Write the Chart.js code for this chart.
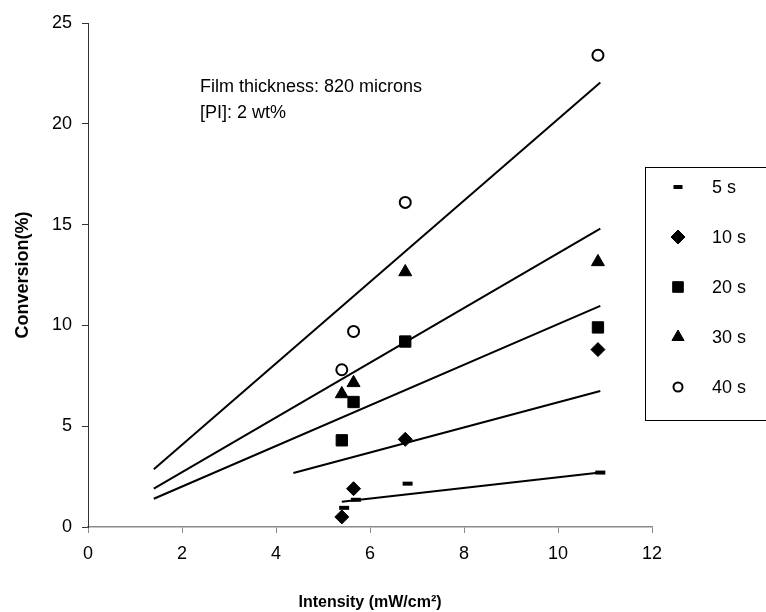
<!DOCTYPE html>
<html>
<head>
<meta charset="utf-8">
<script src="https://cdn.jsdelivr.net/npm/chart.js@4"></script>
<style>
  html, body { margin: 0; padding: 0; background: #fff; }
  #chart { display: block; }
</style>
</head>
<body>
<canvas id="chart" width="766" height="612"></canvas>
<script>
const intensity = [5.4, 5.65, 6.75, 10.85];
const intensity5s = [5.45, 5.7, 6.8, 10.9];
const conv5s = [0.95, 1.35, 2.15, 2.7];
const conv10s = [0.5, 1.9, 4.35, 8.8];
const conv20s = [4.3, 6.2, 9.2, 9.9];
const conv30s = [6.6, 7.15, 12.65, 13.15];
const conv40s = [7.8, 9.7, 16.1, 23.4];

// linear fits (end points)
const fitX = [1.4, 10.9];
const fit40Y = [2.87, 22.05];
const fit30Y = [1.9, 14.8];
const fit20Y = [1.4, 10.97];
const fit10X = [4.37, 10.9];
const fit10Y = [2.68, 6.75];
const fit5X = [5.4, 10.9];
const fit5Y = [1.25, 2.7];

const xTicks = [0, 2, 4, 6, 8, 10, 12];
const yTicks = [0, 5, 10, 15, 20, 25];

const noteLines = ["Film thickness: 820 microns", "[PI]: 2 wt%"];

const FONT = "'Liberation Sans', Arial, sans-serif";

function pts(xs, ys) {
  return xs.map((x, i) => ({ x, y: ys[i] }));
}

function markerSet(label, xs, ys, style, extra) {
  return Object.assign({
    label,
    data: pts(xs, ys),
    pointStyle: style,
    pointRadius: 6,
    pointBackgroundColor: "#000",
    pointBorderColor: "#000",
    pointBorderWidth: 1,
    showLine: false
  }, extra || {});
}

function fitSet(xs, ys) {
  return {
    label: "fit",
    isFit: true,
    data: pts(xs, ys),
    showLine: true,
    borderColor: "#000",
    borderWidth: 2,
    pointRadius: 0,
    fill: false
  };
}

const legendBox = {
  id: "legendBox",
  afterDraw(chart) {
    const ctx = chart.ctx;
    const sets = chart.data.datasets.filter(d => !d.isFit);
    ctx.save();
    ctx.strokeStyle = "#000";
    ctx.lineWidth = 1;
    ctx.strokeRect(645.5, 167.5, 130, 253);
    ctx.font = "18px " + FONT;
    ctx.textBaseline = "middle";
    sets.forEach((d, i) => {
      const y = 187 + i * 50;
      ctx.fillStyle = d.pointBackgroundColor;
      ctx.strokeStyle = d.pointBorderColor;
      ctx.lineWidth = d.pointBorderWidth;
      Chart.helpers.drawPoint(ctx, {
        pointStyle: d.pointStyle,
        radius: d.legendRadius,
        borderWidth: d.pointBorderWidth,
        rotation: 0
      }, 678, y);
      ctx.fillStyle = "#000";
      ctx.fillText(d.label, 712, y + 1);
    });
    ctx.restore();
  }
};

const notes = {
  id: "notes",
  afterDraw(chart) {
    const ctx = chart.ctx;
    ctx.save();
    ctx.font = "18px " + FONT;
    ctx.fillStyle = "#000";
    ctx.textBaseline = "middle";
    noteLines.forEach((t, i) => ctx.fillText(t, 200, 87 + i * 26));
    ctx.restore();
  }
};

new Chart(document.getElementById("chart"), {
  type: "scatter",
  data: {
    datasets: [
      markerSet("5 s", intensity5s, conv5s, "line", { pointBorderWidth: 4, pointRadius: 5, legendRadius: 4.5 }),
      markerSet("10 s", intensity, conv10s, "rectRot", { pointRadius: 7, legendRadius: 7 }),
      markerSet("20 s", intensity, conv20s, "rect", { pointRadius: 8, legendRadius: 7.5 }),
      markerSet("30 s", intensity, conv30s, "triangle", { pointRadius: 7.5, legendRadius: 7 }),
      markerSet("40 s", intensity, conv40s, "circle", { pointRadius: 5.5, pointBackgroundColor: "#fff", pointBorderWidth: 2, legendRadius: 4.5 }),
      fitSet(fitX, fit40Y),
      fitSet(fitX, fit30Y),
      fitSet(fitX, fit20Y),
      fitSet(fit10X, fit10Y),
      fitSet(fit5X, fit5Y)
    ]
  },
  options: {
    responsive: false,
    animation: false,
    layout: { padding: { top: 23, right: 114, bottom: 0, left: 0 } },
    plugins: {
      legend: { display: false },
      tooltip: { enabled: false }
    },
    scales: {
      x: {
        type: "linear",
        min: 0,
        max: 12,
        afterBuildTicks: s => { s.ticks = xTicks.map(v => ({ value: v })); },
        afterFit: s => { s.height = 85; },
        border: { color: "#8a8a8a", width: 1.5 },
        grid: { drawOnChartArea: false, tickLength: 6, color: "#8a8a8a" },
        ticks: { color: "#000", padding: 10, font: { family: FONT, size: 18 } },
        title: {
          display: true,
          text: "Intensity (mW/cm²)",
          color: "#000",
          padding: { top: 4, bottom: 0 },
          font: { family: FONT, size: 16, weight: "bold" }
        }
      },
      y: {
        type: "linear",
        min: 0,
        max: 25,
        afterBuildTicks: s => { s.ticks = yTicks.map(v => ({ value: v })); },
        afterFit: s => { s.width = 88; },
        border: { color: "#333", width: 1 },
        grid: { drawOnChartArea: false, tickLength: 6, color: "#333" },
        ticks: { color: "#000", padding: 10, font: { family: FONT, size: 18 } },
        title: {
          display: true,
          text: "Conversion(%)",
          color: "#000",
          padding: { top: 12, bottom: 0 },
          font: { family: FONT, size: 18, weight: "bold" }
        }
      }
    }
  },
  plugins: [legendBox, notes]
});
</script>
</body>
</html>
